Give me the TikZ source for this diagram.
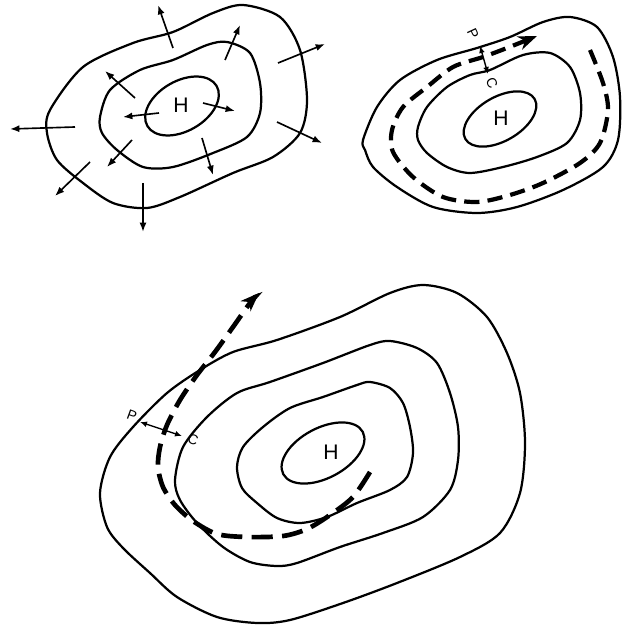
\documentclass[tikz,border=0pt]{standalone}
\usepackage{fontspec}
\setmainfont{Liberation Sans}
\usetikzlibrary{arrows.meta}

\begin{document}
\begin{tikzpicture}[
    x=0.03cm, y=-0.03cm,
    contour/.style={line width=1.9pt, line join=round},
    flow/.style={line width=3.6pt, dash pattern=on 13pt off 7pt, -{Stealth[length=16pt, width=12pt, inset=5pt]}},
    wind/.style={line width=1.4pt, -{Latex[length=8pt, width=6pt]}},
    pgrad/.style={line width=1.2pt, {Latex[length=6pt, width=5pt]}-{Latex[length=6pt, width=5pt]}},
    high/.style={font=\fontsize{18}{20}\selectfont, inner sep=0pt},
    letter/.style={font=\fontsize{12}{14}\selectfont, inner sep=0pt}
]
\useasboundingbox (0,0) rectangle (623,628);

% Top left: divergence out of the high
\draw[contour] plot[smooth cycle] coordinates {(50,110) (83,67) (133,43) (173,32) (213,13) (243,5) (280,17) (300,50) (307,100) (300,133) (273,157) (233,173) (180,197) (147,208) (113,203) (83,183) (57,160) (47,133)};
\draw[contour] plot[smooth cycle] coordinates {(100,117) (110,90) (140,70) (173,60) (207,45) (227,42) (250,53) (260,83) (260,113) (247,137) (213,153) (173,167) (143,167) (117,150) (102,133)};
\draw[contour, rotate around={30:(182,106)}] (182,106) ellipse [x radius=40, y radius=25];
\node[high] (h1) at (181,105) {H};

\coordinate (w1a) at (173,48);  \coordinate (w1b) at (158,5);
\coordinate (w2a) at (225,60);  \coordinate (w2b) at (240,25);
\coordinate (w3a) at (278,63);  \coordinate (w3b) at (325,44);
\coordinate (w4a) at (277,122); \coordinate (w4b) at (322,143);
\coordinate (w5a) at (202,138); \coordinate (w5b) at (213,175);
\coordinate (w6a) at (143,183); \coordinate (w6b) at (143,232);
\coordinate (w7a) at (90,162);  \coordinate (w7b) at (55,196);
\coordinate (w8a) at (132,140); \coordinate (w8b) at (107,167);
\coordinate (w9a) at (75,127);  \coordinate (w9b) at (10,129);
\coordinate (w10a) at (135,98); \coordinate (w10b) at (105,71);
\coordinate (w11a) at (159,113); \coordinate (w11b) at (123,117);
\coordinate (w12a) at (203,103); \coordinate (w12b) at (235,111);

\draw[wind] (w1a) -- (w1b);
\draw[wind] (w2a) -- (w2b);
\draw[wind] (w3a) -- (w3b);
\draw[wind] (w4a) -- (w4b);
\draw[wind] (w5a) -- (w5b);
\draw[wind] (w6a) -- (w6b);
\draw[wind] (w7a) -- (w7b);
\draw[wind] (w8a) -- (w8b);
\draw[wind] (w9a) -- (w9b);
\draw[wind] (w10a) -- (w10b);
\draw[wind] (w11a) -- (w11b);
\draw[wind] (w12a) -- (w12b);

% Top right: flow along the isobars
\draw[contour] plot[smooth cycle] coordinates {(363,140) (377,107) (400,80) (437,60) (477,48) (510,37) (543,22) (570,17) (597,27) (613,57) (620,97) (618,140) (603,167) (563,190) (517,207) (477,213) (433,207) (397,187) (373,167) (365,150)};
\draw[contour] plot[smooth cycle] coordinates {(418,127) (427,107) (447,87) (470,75) (490,70) (523,55) (550,53) (570,67) (580,93) (580,120) (567,143) (537,157) (503,167) (470,173) (447,167) (427,153) (418,140)};
\draw[contour, rotate around={30:(500,119)}] (500,119) ellipse [x radius=40, y radius=22];
\node[high] (h2) at (501,118) {H};
\draw[flow] plot[smooth] coordinates {(590,50) (603,83) (608,110) (600,143) (580,163) (543,183) (510,195) (477,202) (443,197) (413,177) (393,152) (392,130) (403,107) (427,87) (453,67) (483,57) (507,48) (537,36)};

\coordinate (p2) at (480,46);
\coordinate (c2) at (488,74);
\draw[pgrad] (p2) -- (c2);
\node[letter, rotate=-65] (lp2) at (473,34) {P};
\node[letter, rotate=-65] (lc2) at (492,83) {C};

% Bottom: flow crossing the isobars
\draw[contour] plot[smooth cycle] coordinates {(100,493) (110,457) (133,427) (167,393) (200,370) (233,352) (277,340) (340,317) (390,293) (423,285) (457,293) (487,317) (507,353) (520,393) (525,443) (520,493) (500,533) (460,557) (397,583) (343,603) (290,620) (257,623) (217,617) (177,597) (150,573) (123,548) (107,527)};
\draw[contour] plot[smooth cycle] coordinates {(175,480) (183,447) (207,417) (237,393) (270,382) (323,363) (370,345) (390,341) (417,348) (437,363) (450,393) (458,427) (458,460) (450,490) (423,517) (383,533) (340,547) (297,563) (277,566) (250,562) (223,547) (197,523) (180,500)};
\draw[contour] plot[smooth cycle] coordinates {(237,467) (243,447) (263,427) (290,408) (323,397) (357,385) (370,382) (390,388) (403,403) (410,427) (413,453) (407,477) (390,490) (357,503) (327,517) (300,523) (277,518) (257,503) (242,488)};
\draw[contour, rotate around={28:(323,453)}] (323,453) ellipse [x radius=45, y radius=25];
\node[high] (h3) at (331,452) {H};
\draw[flow, line width=4pt, dash pattern=on 18pt off 8pt] plot[smooth] coordinates {(370,472) (353,497) (330,515) (307,529) (283,536) (247,537) (217,534) (193,521) (175,505) (163,487) (158,467) (160,447) (167,425) (180,400) (197,375) (215,352) (233,327) (250,303) (259,293)};

\coordinate (p3) at (140,422);
\coordinate (c3) at (182,436);
\draw[pgrad] (p3) -- (c3);
\node[letter, rotate=-20] (lp3) at (132,416) {P};
\node[letter, rotate=-20] (lc3) at (193,440) {C};

\end{tikzpicture}
\end{document}
